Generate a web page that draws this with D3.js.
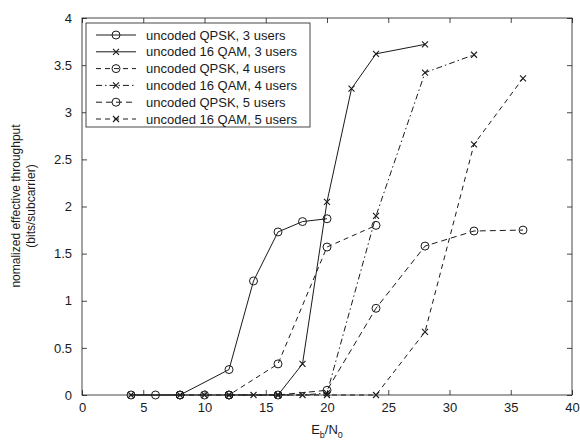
<!DOCTYPE html>
<html>
<head>
<meta charset="utf-8">
<script src="https://cdn.jsdelivr.net/npm/d3@7"></script>
<style>
  body { margin: 0; background: #fff; }
  svg { font-family: Arial, "Liberation Sans", sans-serif; }
</style>
</head>
<body>
<svg id="chart" width="580" height="445"></svg>
<script>
// values
const xTicks = [0, 5, 10, 15, 20, 25, 30, 35, 40];
const yTicks = [0, 0.5, 1, 1.5, 2, 2.5, 3, 3.5, 4];

const qpsk3X = [4, 6, 8, 12, 14, 16, 18, 20];
const qpsk3Y = [0, 0, 0, 0.27, 1.21, 1.73, 1.84, 1.87];

const qam3X = [4, 8, 10, 12, 14, 16, 18, 20, 22, 24, 28];
const qam3Y = [0, 0, 0, 0, 0, 0, 0.33, 2.05, 3.25, 3.62, 3.72];

const qpsk4X = [8, 10, 12, 16, 20, 24];
const qpsk4Y = [0, 0, 0, 0.33, 1.57, 1.8];

const qam4X = [12, 16, 18, 20, 24, 28, 32];
const qam4Y = [0, 0, 0, 0.02, 1.9, 3.42, 3.61];

const qpsk5X = [12, 16, 20, 24, 28, 32, 36];
const qpsk5Y = [0, 0, 0.05, 0.92, 1.58, 1.74, 1.75];

const qam5X = [16, 20, 24, 28, 32, 36];
const qam5Y = [0, 0, 0, 0.67, 2.66, 3.36];

const legendLabels = [
    "uncoded QPSK, 3 users",
    "uncoded 16 QAM, 3 users",
    "uncoded QPSK, 4 users",
    "uncoded 16 QAM, 4 users",
    "uncoded QPSK, 5 users",
    "uncoded 16 QAM, 5 users"
];

const series = [
    { xs: qpsk3X, ys: qpsk3Y, marker: "o", dash: null },
    { xs: qam3X, ys: qam3Y, marker: "x", dash: null },
    { xs: qpsk4X, ys: qpsk4Y, marker: "o", dash: "5,4" },
    { xs: qam4X, ys: qam4Y, marker: "x", dash: "6,3,1.5,3" },
    { xs: qpsk5X, ys: qpsk5Y, marker: "o", dash: "6,4" },
    { xs: qam5X, ys: qam5Y, marker: "x", dash: "5,4" }
];

const ink = "#1a1a1a";
const plotLeft = 82, plotRight = 572, plotTop = 18, plotBottom = 395;

const svg = d3.select("#chart");

const x = d3.scaleLinear().domain([0, 40]).range([plotLeft, plotRight]);
const y = d3.scaleLinear().domain([0, 4]).range([plotBottom, plotTop]);
const fmt = d => String(d);

// frame
svg.append("rect")
    .attr("x", plotLeft)
    .attr("y", plotTop)
    .attr("width", plotRight - plotLeft)
    .attr("height", plotBottom - plotTop)
    .style("fill", "none")
    .style("stroke", ink)
    .style("stroke-width", 0.8);

function styleAxis(g) {
    g.select(".domain").remove();
    g.selectAll(".tick line").style("stroke", ink).style("stroke-width", 0.8);
    g.selectAll(".tick text")
        .style("fill", ink)
        .style("font-size", "13px")
        .style("font-family", "Arial, 'Liberation Sans', sans-serif");
}

svg.append("g")
    .attr("transform", `translate(0,${plotBottom})`)
    .call(d3.axisBottom(x).tickValues(xTicks).tickFormat(fmt).tickSizeInner(-5).tickSizeOuter(0).tickPadding(8))
    .call(styleAxis);

svg.append("g")
    .attr("transform", `translate(0,${plotTop})`)
    .call(d3.axisTop(x).tickValues(xTicks).tickSizeInner(-5).tickSizeOuter(0).tickFormat(""))
    .call(styleAxis);

svg.append("g")
    .attr("transform", `translate(${plotLeft},0)`)
    .call(d3.axisLeft(y).tickValues(yTicks).tickFormat(fmt).tickSizeInner(-5).tickSizeOuter(0).tickPadding(10))
    .call(styleAxis);

svg.append("g")
    .attr("transform", `translate(${plotRight},0)`)
    .call(d3.axisRight(y).tickValues(yTicks).tickSizeInner(-5).tickSizeOuter(0).tickFormat(""))
    .call(styleAxis);

// axis titles
svg.append("text")
    .attr("transform", "translate(20,206) rotate(-90)")
    .attr("text-anchor", "middle")
    .style("font-size", "12px")
    .style("fill", ink)
    .text("nomalized effective throughput");

svg.append("text")
    .attr("transform", "translate(35,206) rotate(-90)")
    .attr("text-anchor", "middle")
    .style("font-size", "12px")
    .style("fill", ink)
    .text("(bits/subcarrier)");

const xTitle = svg.append("text")
    .attr("x", x(20))
    .attr("y", 434)
    .attr("text-anchor", "middle")
    .style("font-size", "13px")
    .style("fill", ink);
xTitle.append("tspan").text("E");
xTitle.append("tspan").attr("dy", 4).style("font-size", "9px").text("b");
xTitle.append("tspan").attr("dy", -4).text("/N");
xTitle.append("tspan").attr("dy", 4).style("font-size", "9px").text("0");

function drawMarker(g, type, cx, cy) {
    if (type === "o") {
        g.append("circle")
            .attr("cx", cx)
            .attr("cy", cy)
            .attr("r", 4)
            .style("fill", "none")
            .style("stroke", ink)
            .style("stroke-width", 1);
    } else {
        const s = 3;
        g.append("path")
            .attr("d", `M${cx - s},${cy - s}L${cx + s},${cy + s}M${cx - s},${cy + s}L${cx + s},${cy - s}`)
            .style("stroke", ink)
            .style("stroke-width", 1.1);
    }
}

const line = d3.line().x(d => x(d[0])).y(d => y(d[1]));

const plot = svg.append("g");
series.forEach(s => {
    const pts = s.xs.map((v, i) => [v, s.ys[i]]);
    plot.append("path")
        .datum(pts)
        .attr("d", line)
        .style("fill", "none")
        .style("stroke", ink)
        .style("stroke-width", 1)
        .style("stroke-dasharray", s.dash);
    pts.forEach(p => drawMarker(plot, s.marker, x(p[0]), y(p[1])));
});

// legend
const lg = svg.append("g");
lg.append("rect")
    .attr("x", 86)
    .attr("y", 23)
    .attr("width", 224)
    .attr("height", 104)
    .style("fill", "#fff")
    .style("stroke", ink)
    .style("stroke-width", 0.8);

legendLabels.forEach((label, i) => {
    const ly = 35 + i * 16.8;
    const s = series[i];
    lg.append("line")
        .attr("x1", 96)
        .attr("x2", 136)
        .attr("y1", ly)
        .attr("y2", ly)
        .style("stroke", ink)
        .style("stroke-width", 1)
        .style("stroke-dasharray", s.dash);
    drawMarker(lg, s.marker, 116, ly);
    lg.append("text")
        .attr("x", 146)
        .attr("y", ly)
        .attr("dy", "0.35em")
        .style("font-size", "13px")
        .style("fill", ink)
        .text(label);
});
</script>
</body>
</html>
